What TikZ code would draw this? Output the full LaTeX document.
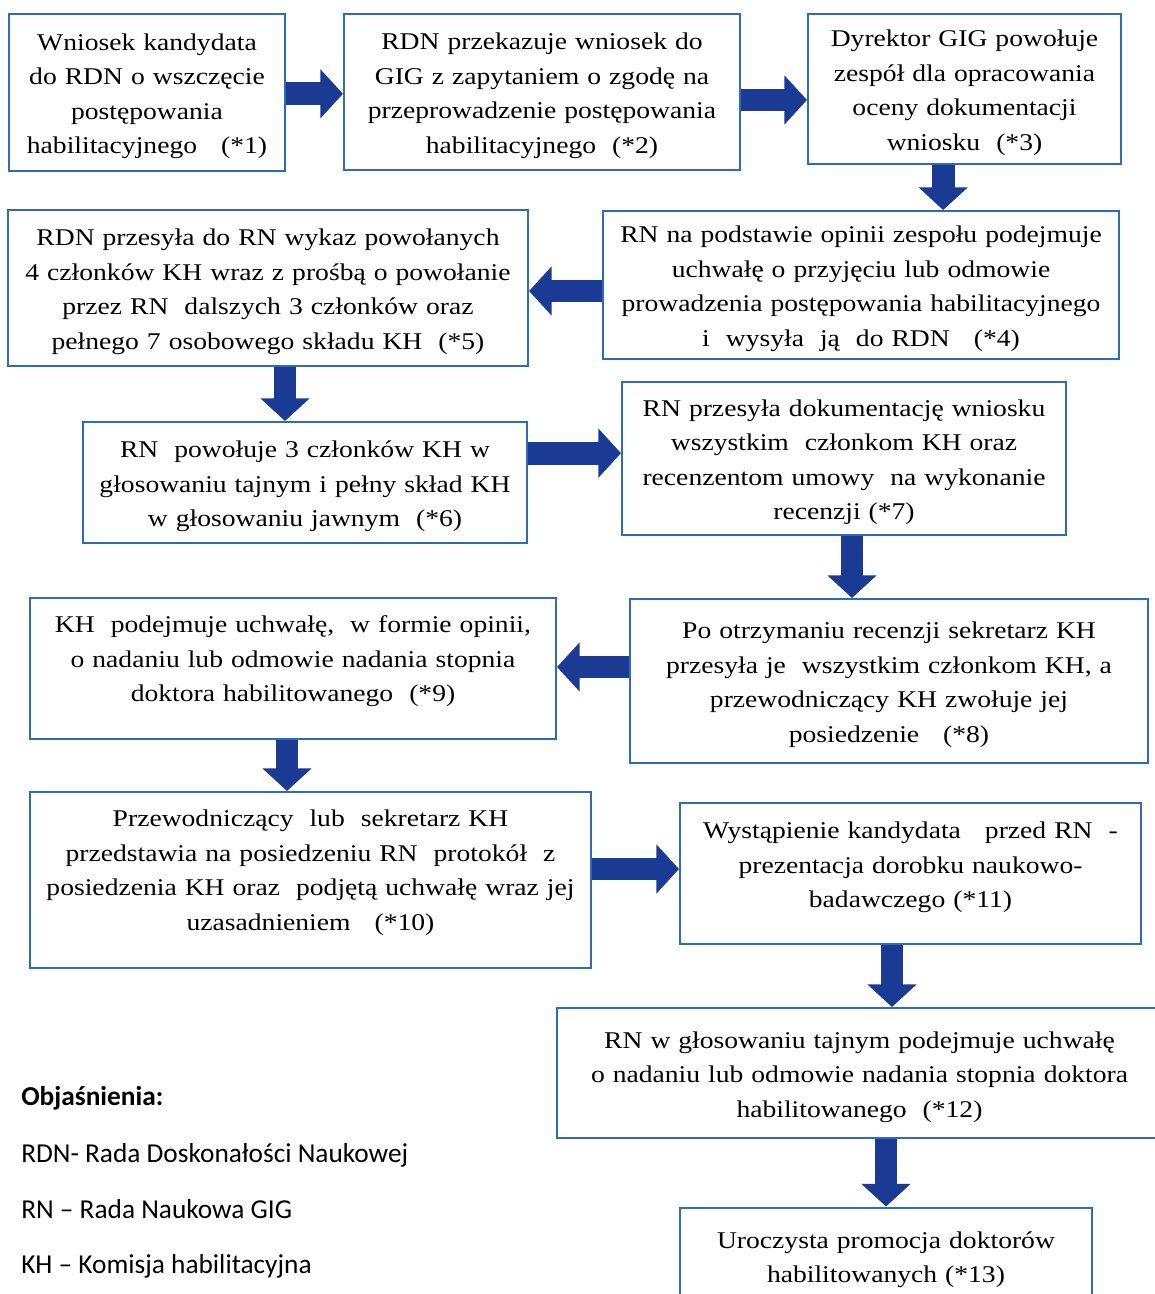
\documentclass[tikz,border=0pt]{standalone}
\usepackage{fontspec}
\setmainfont{Liberation Serif}[FakeStretch=1.15]
\newfontfamily\legfont{Carlito}
\usetikzlibrary{arrows.meta}
\definecolor{boxblue}{RGB}{46,108,186}
\definecolor{arrowblue}{RGB}{26,58,148}

\begin{document}
\begin{tikzpicture}[x=0.75pt, y=-0.75pt,
  stepbox/.style={draw=boxblue, line width=1.5pt, rectangle, align=center, inner xsep=3pt, inner ysep=2pt, text height=18.3pt, font=\fontsize{18}{25.9}\selectfont},
  bigarrow/.style={draw=arrowblue, line width=17pt, -{Triangle[width=36pt,length=17pt]}},
  legend/.style={anchor=base west, inner sep=0pt, font=\legfont\fontsize{20.5}{24}\selectfont}]
  \path[use as bounding box, fill=white] (0,0) rectangle (1154,1294);

  % row 1
  \node (b1) [stepbox, text width=201pt, minimum height=117.75pt] at (147,92.5) {Wniosek kandydata\\ do RDN o wszczęcie\\ postępowania\\ habilitacyjnego~~ (*1)};
  \node (b2) [stepbox, text width=291pt, minimum height=117pt] at (542,92) {RDN przekazuje wniosek do\\ GIG z zapytaniem o zgodę na\\ przeprowadzenie postępowania\\ habilitacyjnego~ (*2)};
  \node (b3) [stepbox, text width=228.75pt, minimum height=112.5pt] at (964.5,89) {Dyrektor GIG powołuje\\ zespół dla opracowania\\ oceny dokumentacji\\ wniosku~ (*3)};

  % row 2
  \node (b4) [stepbox, text width=381pt, minimum height=111pt] at (861,285) {RN na podstawie opinii zespołu podejmuje\\ uchwałę o przyjęciu lub odmowie\\ prowadzenia postępowania habilitacyjnego\\ i~ wysyła~ ją~ do RDN~~ (*4)};
  \node (b5) [stepbox, text width=384pt, minimum height=117pt] at (268,288) {RDN przesyła do RN wykaz powołanych\\ 4 członków KH wraz z prośbą o powołanie\\ przez RN~ dalszych 3 członków oraz\\ pełnego 7 osobowego składu KH~ (*5)};

  % row 3
  \node (b6) [stepbox, text width=327pt, minimum height=90.75pt] at (305,482.5) {RN~ powołuje 3 członków KH w\\ głosowaniu tajnym i pełny skład KH\\ w głosowaniu jawnym~ (*6)};
  \node (b7) [stepbox, text width=327pt, minimum height=114.75pt] at (844,458.5) {RN przesyła dokumentację wniosku\\ wszystkim~ członkom KH oraz\\ recenzentom umowy~ na wykonanie\\ recenzji (*7)};

  % row 4
  \node (b8) [stepbox, text width=382.5pt, minimum height=123pt] at (889,681) {Po otrzymaniu recenzji sekretarz KH\\ przesyła je~ wszystkim członkom KH, a\\ przewodniczący KH zwołuje jej\\ posiedzenie~~ (*8)};
  \node (b9) [stepbox, text width=388.5pt, minimum height=105.75pt, text depth=71.8pt] at (293,668.5) {KH~ podejmuje uchwałę,~ w formie opinii,\\ o nadaniu lub odmowie nadania stopnia\\ doktora habilitowanego~ (*9)};

  % row 5
  \node (b10) [stepbox, text width=414.75pt, minimum height=132pt, text depth=98.3pt] at (310.5,880) {Przewodniczący~ lub~ sekretarz KH\\ przedstawia na posiedzeniu RN~ protokół~ z\\ posiedzenia KH oraz~ podjętą uchwałę wraz jej\\ uzasadnieniem~~ (*10)};
  \node (b11) [stepbox, text width=339.75pt, minimum height=105.75pt, text depth=70.3pt] at (910.5,873.5) {Wystąpienie kandydata~~ przed RN~ -\\ prezentacja dorobku naukowo-\\ badawczego (*11)};

  % last steps
  \node (b12) [stepbox, text width=447.75pt, minimum height=97.5pt] at (859.5,1073) {RN w głosowaniu tajnym podejmuje uchwałę\\ o nadaniu lub odmowie nadania stopnia doktora\\ habilitowanego~ (*12)};
  \node (b13) [stepbox, text width=303pt, minimum height=72.75pt] at (886,1256) {Uroczysta promocja doktorów\\ habilitowanych (*13)};

  % legend
  \node (legtitle) [legend] at (21,1105) {\bfseries Objaśnienia:};
  \node (leg1) [legend] at (21,1162) {RDN- Rada Doskonałości Naukowej};
  \node (leg2) [legend] at (21,1218) {RN – Rada Naukowa GIG};
  \node (leg3) [legend] at (21,1273) {KH – Komisja habilitacyjna};

  % arrows
  \draw[bigarrow] ([yshift=-1pt]b1.east) -- ([yshift=-1pt]b1.east -| b2.west);
  \draw[bigarrow] ([yshift=-6pt]b2.east) -- ([yshift=-6pt]b2.east -| b3.west);
  \draw[bigarrow] ([xshift=-16pt]b3.south) -- ([xshift=-16pt]b3.south |- b4.north);
  \draw[bigarrow] ([yshift=-4.5pt]b4.west) -- ([yshift=-4.5pt]b4.west -| b5.east);
  \draw[bigarrow] ([xshift=12.75pt]b5.south) -- ([xshift=12.75pt]b5.south |- b6.north);
  \draw[bigarrow] ([yshift=22pt]b6.east) -- ([yshift=22pt]b6.east -| b7.west);
  \draw[bigarrow] ([xshift=6pt]b7.south) -- ([xshift=6pt]b7.south |- b8.north);
  \draw[bigarrow] ([yshift=10.5pt]b8.west) -- ([yshift=10.5pt]b8.west -| b9.east);
  \draw[bigarrow] ([xshift=-4.5pt]b9.south) -- ([xshift=-4.5pt]b9.south |- b10.north);
  \draw[bigarrow] ([yshift=8.25pt]b10.east) -- ([yshift=8.25pt]b10.east -| b11.west);
  \draw[bigarrow] ([xshift=-13.9pt]b11.south) -- ([xshift=-13.9pt]b11.south |- b12.north);
  \draw[bigarrow] (b12.south -| b13.north) -- (b13.north);
\end{tikzpicture}
\end{document}
